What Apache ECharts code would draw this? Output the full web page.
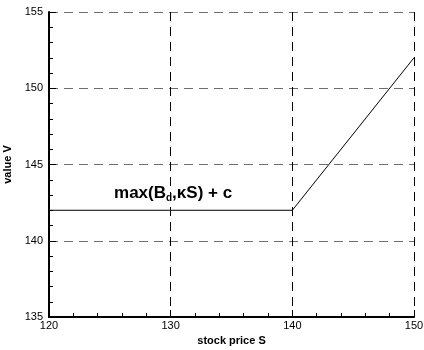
<!DOCTYPE html>
<html>
<head>
<meta charset="utf-8">
<script src="https://cdn.jsdelivr.net/npm/echarts@6/dist/echarts.min.js"></script>
<style>
  html, body { margin: 0; padding: 0; background: #fff; }
  #chart { width: 424px; height: 350px; }
</style>
</head>
<body>
<div id="chart"></div>
<script>
// Payoff curve: flat floor, then rising with the stock price
const stockPrice = [120, 140, 150];
const optionValue = [142, 142, 152];

const xRange = [120, 150];
const yRange = [135, 155];

const FONT = '"Liberation Sans", Arial, sans-serif';

const chart = echarts.init(document.getElementById('chart'), null, { renderer: 'canvas' });

const dashedGrid = (color) => ({
  show: true,
  lineStyle: { color: color, width: 1, type: [9, 6] }
});

chart.setOption({
  animation: false,
  backgroundColor: '#ffffff',
  grid: { left: 49, right: 10, top: 12, bottom: 33, containLabel: false, outerBoundsMode: 'none' },
  xAxis: {
    type: 'value',
    min: xRange[0], max: xRange[1], interval: 10,
    name: 'stock price S',
    nameLocation: 'middle',
    nameGap: 16,
    nameTextStyle: { fontFamily: FONT, fontWeight: 'bold', fontSize: 11, color: '#000' },
    axisLine: { show: true, onZero: false, lineStyle: { color: '#000', width: 2 } },
    axisTick: { show: true, inside: true, length: 7, lineStyle: { color: '#000', width: 1 } },
    minorTick: { show: true, splitNumber: 5, length: 4, lineStyle: { color: '#000', width: 1 } },
    axisLabel: { fontFamily: FONT, fontSize: 11, color: '#000', margin: 3 },
    splitLine: dashedGrid('#000')
  },
  yAxis: {
    type: 'value',
    min: yRange[0], max: yRange[1], interval: 5,
    name: 'value V',
    nameLocation: 'middle',
    nameMoveOverlap: false,
    nameGap: 36,
    nameRotate: 90,
    nameTextStyle: { fontFamily: FONT, fontWeight: 'bold', fontSize: 11, color: '#000' },
    axisLine: { show: true, onZero: false, lineStyle: { color: '#000', width: 2 } },
    axisTick: { show: true, inside: true, length: 7, lineStyle: { color: '#000', width: 1 } },
    minorTick: { show: true, splitNumber: 5, length: 4, lineStyle: { color: '#000', width: 1 } },
    axisLabel: { fontFamily: FONT, fontSize: 11, color: '#000', margin: 6 },
    splitLine: dashedGrid('#6e6e6e')
  },
  series: [{
    type: 'line',
    data: stockPrice.map((s, i) => [s, optionValue[i]]),
    symbol: 'none',
    lineStyle: { color: '#000', width: 1 },
    z: 5,
    markPoint: {
      symbol: 'circle',
      symbolSize: 1,
      itemStyle: { color: 'rgba(0,0,0,0)' },
      silent: true,
      data: [{
        coord: [130.2, 143.1],
        label: {
          show: true,
          position: 'inside',
          formatter: '{a|max(B}{s|d}{a|,κS) + c}',
          rich: {
            a: { fontFamily: FONT, fontWeight: 'bold', fontSize: 17, color: '#000', lineHeight: 20, verticalAlign: 'middle' },
            s: { fontFamily: FONT, fontWeight: 'bold', fontSize: 10, color: '#000', lineHeight: 10, verticalAlign: 'bottom' }
          }
        }
      }]
    }
  }]
});
</script>
</body>
</html>
